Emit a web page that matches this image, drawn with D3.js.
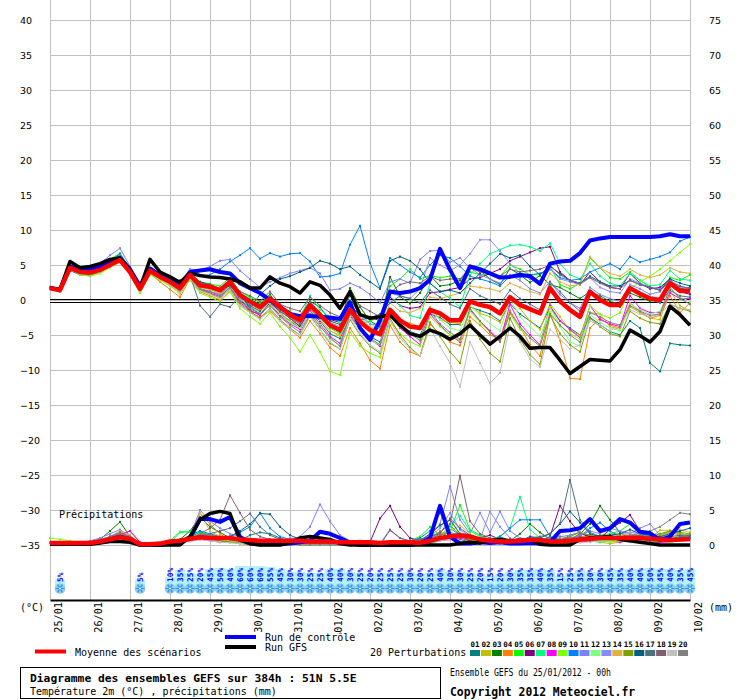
<!DOCTYPE html>
<html>
<head>
<meta charset="utf-8">
<script src="https://cdn.jsdelivr.net/npm/d3@7"></script>
<style>
  body { margin: 0; background: #fff; }
  svg { display: block; }
</style>
</head>
<body>
<svg id="chart" width="740" height="700"></svg>
<script>
"use strict";

// ---- data (6h steps, 0..384h) ----
const dayLabels = ["25/01","26/01","27/01","28/01","29/01","30/01","31/01","01/02","02/02",
  "03/02","04/02","05/02","06/02","07/02","08/02","09/02","10/02"];
const tempTicks = [40,35,30,25,20,15,10,5,0,-5,-10,-15,-20,-25,-30,-35];
const precipTicks = [75,70,65,60,55,50,45,40,35,30,25,20,15,10,5,0];

const snowPct = [0,5,0,0,0,0,0,0,0,5, 0,0,10,35,25,20,45,50,40,60, 60,60,55,45,30,30,25,25,40,40,
  30,25,20,25,25,25,30,20,25,40, 30,30,25,20,15,20,30,35,35,40, 35,15,25,35,30,30,45,35,40,40, 50,45,40,35,45];

const tempMean = [1.7,1.4,4.6,4.0,3.9,4.3,5.0,5.7,4.0,1.6, 4.2,3.3,2.6,1.7,3.6,2.1,1.9,1.4,2.6,0.7,
  -0.2,-1.0,0.2,-1.0,-2.1,-2.9,-0.7,-2.1,-3.6,-4.3, -1.4,-3.1,-4.3,-4.9,-1.4,-2.9,-3.8,-4.0,-1.4,-1.9,
  -2.9,-2.9,-0.2,-0.7,-1.0,-1.9,0.4,-0.7,-1.3,-1.9, 1.7,-0.2,-1.4,-2.4,1.2,0.0,-0.7,-0.7,1.7,0.9, 0.2,0.0,2.4,1.3,1.3];
const tempControl = [1.7,1.5,4.8,4.2,4.4,4.8,5.5,6.0,4.4,2.0, 4.5,3.5,3.0,2.2,4.0,4.2,4.4,4.0,3.8,2.4,
  1.7,1.0,0.0,-1.0,-2.0,-2.3,-2.3,-2.4,-2.5,-2.7, -0.3,-4.0,-5.7,-2.9,1.2,1.0,1.2,1.7,2.9,7.3,
  4.3,1.7,4.8,4.4,3.8,3.2,3.3,3.6,3.4,2.3, 5.2,5.5,5.6,6.7,8.5,8.8,9.0,9.0,9.0,9.0, 9.0,9.1,9.4,9.1,9.1];
const tempGFS = [1.7,1.5,5.5,4.6,4.8,5.2,5.8,6.0,4.3,1.7, 5.8,4.0,3.3,2.5,3.8,3.5,3.3,3.2,3.0,2.6,
  1.7,1.7,3.3,2.4,1.9,1.0,2.6,2.1,0.7,-1.2, 1.2,-2.1,-2.6,-2.4,-2.1,-3.6,-4.8,-5.2,-4.3,-4.8,
  -5.6,-4.8,-3.6,-5.0,-6.3,-5.2,-4.0,-5.2,-6.9,-6.8, -6.8,-8.6,-10.5,-9.5,-8.5,-8.6,-8.7,-7.1,-4.3,-5.1, -6.0,-4.5,-0.9,-2.1,-3.6];

const tempPerts = [
  [1.8,1.5,4.2,3.6,3.5,4.0,4.8,5.5,3.6,1.0, 3.8,3.0,2.4,1.0,3.0,1.5,1.2,0.8,2.0,0.0, -1.0,-2.0,-0.5,-2.0,-3.0,-4.0,-1.5,-3.0,-4.8,-5.5,
   -2.5,-4.0,-5.2,-6.0,-2.0,-3.8,-4.5,-5.0,-2.0,-2.5, -3.5,-3.5,-1.0,-1.5,-2.0,-3.0,-0.5,-2.0,-3.0,-4.0, -1.0,-3.0,-4.0,-5.0,-2.5,-3.5,-4.5,-5.0,-3.0,-4.0, -9.0,-10.2,-6.2,-6.4,-6.5],
  [1.7,1.4,4.8,4.2,4.2,4.6,5.6,6.5,4.2,1.8, 4.4,3.4,2.0,1.2,3.2,1.8,1.5,0.9,2.2,0.3, -0.8,-1.6,-0.2,-1.8,-3.0,-3.6,-1.2,-2.8,-4.4,-5.2,
   -2.0,-3.2,-4.0,-4.6,-2.0,-3.0,-3.3,-3.8,-1.0,-2.8, -3.2,-3.4,-0.8,-1.9,-2.4,-3.2,0.2,-1.2,-3.0,-4.2, -0.5,-2.4,-4.4,-5.0,-1.8,-2.0,-3.8,-4.2,-1.0,-1.8, -2.6,-2.8,1.3,-0.8,-1.6],
  [1.7,1.4,4.4,4.0,3.8,4.2,5.2,6.4,4.2,1.4, 4.0,3.2,2.4,1.5,3.3,2.0,1.6,1.2,2.2,0.8, 0.0,-0.6,0.8,-1.2,-2.5,-2.2,-0.2,-1.0,-3.0,-3.5,
   1.7,-1.0,-3.0,-3.8,3.3,0.5,-0.5,1.0,3.5,2.0, 2.2,2.8,4.6,4.2,3.0,2.2,4.5,3.6,2.5,3.5, 2.2,1.8,1.0,0.2,1.2,0.6,-0.2,-0.6,1.0,0.4, -0.2,0.2,2.6,1.6,1.8],
  [1.6,1.2,4.3,3.8,3.6,4.0,4.8,5.8,3.8,1.2, 3.8,2.6,1.5,0.4,3.0,1.2,0.6,0.0,1.2,-0.8, -1.8,-2.4,-1.6,-3.0,-4.2,-5.4,-3.0,-4.8,-6.8,-8.0,
   -4.0,-6.2,-8.6,-9.8,-3.6,-6.0,-7.4,-8.0,-3.5,-4.8, -6.0,-6.5,-2.4,-3.6,-5.0,-5.6,-1.5,-3.8,-6.4,-8.0, -1.8,-5.8,-11.2,-11.3,-4.0,-2.6,-3.6,-4.0,-0.4,-1.6, -2.6,-2.2,0.6,-1.8,-0.4],
  [1.9,1.6,4.7,4.3,4.4,4.9,5.8,6.7,4.4,2.0, 4.4,3.6,3.0,2.0,3.8,2.6,2.3,2.0,3.2,1.2, 0.4,-0.4,0.5,-1.0,-1.6,-3.0,-0.8,-2.6,-4.0,-4.8,
   -1.6,-3.4,-3.0,-2.4,2.0,3.0,4.4,3.0,3.5,3.2, 3.4,3.0,4.0,3.6,3.8,3.4,5.0,4.4,3.6,3.6, 4.8,2.2,1.6,2.4,6.0,4.6,3.2,3.0,4.0,2.8, 1.8,1.4,3.2,2.8,3.6],
  [1.8,1.5,4.6,4.1,4.0,4.4,5.2,6.0,4.2,1.8, 4.4,3.4,2.8,2.8,3.8,2.0,1.6,1.2,2.6,0.2, -1.6,-2.0,-0.4,-1.6,-2.6,-3.8,-1.2,-2.6,-2.8,-3.2,
   -1.0,-2.0,-2.4,-3.0,0.4,-0.8,-1.2,-1.0,1.0,1.2, 1.5,1.8,3.0,3.2,3.8,4.4,5.6,6.2,6.8,7.4, 7.6,4.0,2.8,2.2,4.0,2.6,1.8,1.6,3.8,2.4, 1.6,1.8,3.0,1.2,0.8],
  [1.7,1.3,4.5,4.0,3.8,4.2,4.8,5.4,3.8,1.4, 4.0,3.2,2.6,1.8,3.4,2.2,1.8,1.6,2.8,1.0, 0.2,-0.8,0.4,-1.2,-2.0,-2.6,0.6,-1.4,-2.4,-3.2,
   0.0,-1.8,-3.4,-4.2,0.6,-0.8,-2.2,-2.6,2.4,1.2, 0.2,-1.0,3.6,5.2,6.6,7.2,7.8,7.9,7.6,7.0, 8.1,5.2,3.6,3.0,5.2,3.4,2.4,2.0,3.8,2.8, 2.0,2.2,4.2,3.0,2.8],
  [1.7,1.4,4.6,3.9,3.8,4.2,4.9,5.8,4.6,2.4, 4.4,3.2,2.4,1.2,3.4,1.6,1.0,0.5,1.8,-0.4, -1.4,-2.2,-0.6,-2.2,-3.4,-4.2,-1.6,-3.4,-5.2,-6.2,
   -2.2,-4.2,-5.6,-6.6,-2.0,-4.0,-5.2,-6.4,-2.0,-3.6, -5.0,-6.0,-1.4,-3.0,-4.4,-5.8,-0.6,-3.4,-5.0,-6.4, -0.8,-3.0,-4.2,-5.4,-0.8,-2.8,-3.4,-3.8,0.6,-1.2, -1.8,-1.8,1.0,0.2,0.2],
  [1.8,1.5,4.4,3.6,3.4,3.8,4.6,5.4,3.6,1.0, 3.6,2.8,2.0,1.0,2.8,1.0,0.4,-0.2,1.2,-1.2, -2.4,-3.4,-1.8,-3.8,-5.4,-7.4,-5.0,-7.4,-10.2,-10.7,
   -4.6,-6.6,-7.6,-8.2,-3.0,-4.8,-6.0,-6.6,-2.4,-3.8, -5.0,-5.8,-1.6,-3.2,-4.6,-6.0,-2.0,-4.2,-5.4,-6.6, -1.0,-3.6,-4.8,-5.6,-0.8,-2.0,-2.6,-1.8,1.6,2.6, 3.4,4.4,5.6,6.8,8.0],
  [1.7,1.4,4.6,4.2,4.2,4.6,5.6,6.6,4.4,1.8, 4.4,3.6,3.0,2.2,4.0,3.4,3.6,4.4,5.5,6.4, 7.4,5.9,6.7,6.2,6.6,6.7,5.5,3.3,3.4,3.8,
   7.9,10.6,5.3,1.7,6.0,5.0,4.0,3.2,5.0,6.4, 6.0,4.8,3.4,3.0,2.6,2.0,3.4,3.2,3.6,3.8, 4.4,3.2,2.8,3.0,4.0,4.6,5.2,4.4,6.2,5.4, 5.8,6.2,6.8,8.4,9.0],
  [1.8,1.6,4.8,4.4,4.6,5.2,6.4,7.4,4.8,2.0, 4.6,3.8,3.2,2.4,4.4,4.2,4.8,5.6,5.8,4.2, 3.0,1.8,2.6,3.2,3.8,4.2,4.6,3.8,1.4,1.6,
   2.4,1.8,0.8,-0.4,2.6,3.0,2.4,5.8,7.0,7.1, 5.4,6.0,4.6,3.6,3.0,2.4,3.6,2.8,1.6,1.0, 2.6,0.8,-0.4,-1.2,1.8,0.8,0.2,-0.2,2.2,1.6, 0.8,1.2,2.8,2.0,1.6],
  [1.8,1.4,4.4,3.8,3.7,4.1,4.7,5.4,3.9,1.5, 4.0,3.0,2.2,1.3,3.2,1.7,1.3,0.7,2.0,0.1, -0.9,-1.8,-0.6,-2.0,-3.2,-4.0,-1.8,-3.6,-5.6,-6.4,
   -2.4,-4.4,-5.8,-6.4,-1.6,-3.6,-4.6,-5.6,-1.4,-2.8, -4.0,-4.4,-0.8,-2.2,-3.4,-4.4,0.2,-2.4,-3.8,-5.2, -1.6,-3.8,-6.0,-6.6,-2.0,-3.2,-4.0,-4.4,-0.6,-1.4, -2.0,-1.6,1.4,0.4,-0.2],
  [1.6,1.3,4.4,3.9,3.9,4.4,5.4,6.4,4.2,1.6, 4.2,3.4,2.6,1.4,3.0,1.6,1.2,0.8,2.2,0.2, -0.6,-1.4,0.0,-1.2,-2.4,-3.0,-0.4,-2.2,-3.2,-3.8,
   -0.6,-2.4,-3.4,-3.6,1.0,0.6,0.2,1.6,6.0,5.0, 4.2,5.0,6.6,8.6,8.6,7.0,5.2,3.8,3.0,2.6, 4.4,3.0,2.6,2.2,3.2,1.8,1.2,1.0,3.0,2.4, 1.8,1.6,2.6,1.8,1.6],
  [1.7,1.3,4.5,4.0,3.9,4.3,5.0,5.8,4.0,1.4, 4.0,3.0,2.2,0.8,3.4,1.8,1.6,1.0,2.4,0.4, -0.4,-1.4,0.2,-1.2,-2.4,-3.4,-1.0,-2.8,-4.4,-5.0,
   -1.0,-2.6,-3.8,-4.4,-0.4,-1.6,-1.8,-1.2,0.4,0.2, 0.6,1.0,2.0,1.8,1.6,1.2,2.4,1.8,1.2,0.8, 3.8,2.6,2.0,2.2,6.2,4.6,3.8,3.4,4.4,3.6, 3.2,3.6,4.6,4.0,3.8],
  [1.7,1.4,4.5,3.9,3.7,4.1,4.8,5.7,3.9,1.4, 3.9,3.0,2.3,1.2,3.1,1.4,0.9,0.3,1.6,-0.6, -1.6,-2.6,-1.2,-2.8,-4.0,-5.0,-2.2,-4.2,-6.2,-7.0,
   -2.8,-5.0,-6.6,-7.6,-2.6,-5.0,-6.8,-8.0,-3.2,-5.2, -7.4,-9.0,-3.0,-5.6,-7.6,-8.8,-2.6,-5.6,-7.8,-9.2, -2.2,-4.8,-6.4,-7.4,-2.6,-3.8,-4.8,-5.2,-1.6,-2.6, -3.2,-3.4,-0.6,-1.2,-1.6],
  [1.8,1.5,4.7,4.3,4.3,4.7,5.5,6.2,4.4,1.8, 4.2,3.4,2.8,2.0,3.4,2.6,2.2,1.6,2.0,1.0, -1.2,0.8,2.0,3.0,3.4,4.0,4.6,5.6,5.2,4.4,
   4.8,3.6,2.6,1.6,5.6,6.2,5.6,4.4,2.4,1.2, 1.4,1.0,2.4,3.8,5.2,6.6,6.0,6.4,4.8,3.6, 4.8,3.8,2.8,2.4,3.4,2.6,2.0,2.0,2.8,2.2, 1.8,1.4,3.0,2.4,2.0],
  [1.7,1.4,4.6,4.0,3.9,4.3,5.0,5.7,4.0,1.6, 4.1,3.3,2.5,1.6,3.6,-0.8,-2.4,-0.6,-1.0,0.6, -0.8,-1.6,-0.2,-1.6,-2.6,-3.4,-1.0,-2.4,-3.8,-4.6,
   -1.6,-2.8,-2.6,-2.0,-0.4,0.6,0.2,-0.4,1.4,0.4, -0.6,-1.2,1.6,0.6,0.0,-0.6,1.4,0.2,-0.6,-1.4, 2.6,1.2,-0.4,-1.6,1.0,0.4,-0.6,-1.0,1.6,0.8, 0.0,-0.4,1.4,0.6,0.4],
  [1.7,1.4,4.6,4.1,4.0,4.4,5.1,5.8,4.1,1.7, 4.3,3.4,2.7,1.8,3.5,2.4,2.2,1.6,2.6,1.2, 0.6,-0.2,1.2,-0.6,-1.2,-1.6,0.4,-0.8,-1.8,-2.4,
   0.6,-0.8,-1.6,-2.4,1.0,2.2,2.6,2.4,3.4,2.8, 3.0,3.0,4.6,4.0,3.8,3.4,4.4,4.0,4.2,4.4, 5.0,3.6,2.8,2.4,3.2,2.4,1.8,1.6,2.8,2.2, 1.8,1.4,2.6,2.0,1.6],
  [1.6,1.3,4.3,3.8,3.7,4.1,4.8,5.6,3.9,1.4, 3.9,3.0,2.2,1.1,3.0,1.3,0.8,0.2,1.4,-0.8, -1.8,-2.8,-1.4,-3.0,-4.2,-5.0,-2.4,-4.2,-6.0,-7.0,
   -2.6,-4.8,-6.4,-7.4,-3.0,-5.4,-7.0,-8.0,-4.0,-6.6, -9.0,-12.4,-6.0,-9.0,-11.9,-10.4,-3.6,-6.0,-8.4,-9.6, -4.2,-5.6,-7.0,-6.4,-3.0,-3.6,-4.4,-3.6,-1.4,-2.0, -2.4,-2.0,-0.6,-1.2,-1.4],
  [1.7,1.4,4.5,3.9,3.8,4.2,4.9,5.9,4.4,2.0, 4.2,3.2,2.4,1.4,3.2,1.6,1.2,0.6,1.8,-0.2, -1.2,-2.0,-0.8,-2.4,-3.6,-4.6,-2.0,-3.8,-5.4,-6.6,
   -2.0,-4.0,-5.4,-6.4,-1.8,-3.6,-4.8,-5.8,-1.6,-3.4, -4.6,-5.6,-1.2,-3.0,-4.6,-6.0,-1.8,-3.8,-5.4,-6.6, -2.0,-3.6,-5.0,-6.0,-1.8,-2.4,-3.2,-3.6,-0.8,-1.6, -2.2,-2.0,1.8,0.2,-0.6]
];

const precipMean = [0.3,0.3,0.3,0.3,0.3,0.5,0.8,1.1,0.9,0.1, 0.1,0.2,0.5,0.6,0.9,1.1,1.0,1.0,1.0,0.8,
  0.7,0.6,0.6,0.6,0.6,0.6,0.5,0.5,0.5,0.4, 0.4,0.4,0.4,0.3,0.4,0.4,0.4,0.3,0.6,1.0,
  1.2,1.4,1.2,0.8,0.6,0.5,0.5,0.6,0.7,0.7, 0.5,0.5,0.6,0.8,0.9,1.0,1.0,1.0,1.0,1.0, 0.9,0.8,0.7,0.8,0.9];
const precipControl = [0.2,0.2,0.2,0.2,0.2,0.4,0.8,1.2,0.8,0.0, 0.0,0.0,0.2,0.4,1.0,3.7,3.7,3.3,4.0,1.2,
  0.2,0.1,0.1,0.1,0.2,0.4,0.6,1.9,1.6,1.0, 0.3,0.0,0.0,0.0,0.0,0.0,0.0,0.2,1.0,5.6,
  1.2,0.2,0.2,0.4,0.3,0.4,0.2,0.2,0.3,0.2, 0.4,2.0,2.1,2.4,3.7,2.0,2.4,3.7,3.2,1.9, 1.7,0.7,1.2,3.0,3.2];
const precipGFS = [0.1,0.1,0.1,0.1,0.1,0.3,0.5,0.5,0.4,0.0, 0.0,0.0,0.0,0.0,1.2,3.6,4.5,4.8,4.5,0.7,
  0.2,0.0,0.0,0.0,0.3,1.0,1.2,1.0,0.8,0.2, 0.0,0.0,0.0,0.0,0.0,0.0,0.0,0.0,0.0,0.0,
  0.0,0.2,0.4,0.3,0.6,0.8,0.6,0.6,0.8,0.1, 0.0,0.0,0.0,0.8,1.0,1.1,1.2,0.8,0.6,0.4, 0.2,0.0,0.0,0.0,0.0];

const precipPerts = [
  [0.3,0.3,0.2,0.3,0.4,0.6,1.0,1.4,0.8,0.0, 0.0,0.1,0.3,0.6,1.2,1.8,1.4,1.0,0.8,0.6, 1.4,1.8,1.6,1.0,0.4,0.2,0.0,0.0,0.0,0.2,
   0.4,0.2,0.0,0.0,0.0,0.2,0.6,0.4,0.8,1.6, 1.2,0.8,0.4,0.2,0.2,0.3,0.4,0.6,0.2,0.0, 0.2,0.6,1.4,1.8,1.2,0.8,0.6,0.8,1.2,1.0, 0.6,1.4,2.0,1.6,1.4],
  [0.4,0.3,0.3,0.4,0.5,0.8,1.2,1.8,1.0,0.2, 0.0,0.0,0.2,0.4,0.8,1.0,0.8,0.6,0.4,0.3, 0.2,0.2,0.4,0.6,0.4,0.2,0.1,0.0,0.0,0.0,
   0.2,0.4,0.2,0.0,0.0,0.0,0.3,0.2,0.4,0.6, 0.8,1.0,0.6,0.4,0.2,0.2,0.4,0.3,0.2,0.4, 0.6,0.4,0.2,0.4,0.6,0.4,0.2,0.4,0.6,0.8, 1.0,2.1,2.1,1.6,1.4],
  [0.3,0.2,0.3,0.3,0.4,0.8,2.0,3.3,1.2,0.0, 0.0,0.2,0.3,0.8,2.0,4.0,2.6,1.8,1.0,0.6, 0.4,0.6,0.8,0.6,0.4,0.2,0.0,0.0,0.2,0.4,
   0.2,0.0,0.0,0.0,0.2,0.0,0.0,0.4,0.8,1.2, 2.8,1.4,0.6,0.4,0.8,1.2,0.6,1.6,3.0,1.8, 0.8,0.6,0.8,1.6,3.0,5.6,3.6,1.8,0.8,0.4, 0.2,0.4,0.6,0.8,1.0],
  [0.3,0.3,0.3,0.3,0.4,0.6,1.2,1.6,2.0,0.4, 0.0,0.0,0.2,0.6,1.4,4.6,3.0,1.6,0.6,0.2, 0.0,0.0,0.2,0.4,0.2,0.0,0.0,0.0,0.0,0.0,
   0.0,0.0,0.0,0.0,0.0,0.0,0.2,0.4,0.8,2.0, 1.0,1.6,1.4,0.8,0.4,0.4,0.2,0.2,0.4,0.8, 0.6,0.4,0.6,1.0,1.4,0.8,0.6,1.2,1.0,0.8, 0.6,1.0,1.8,1.4,0.8],
  [0.4,0.4,0.3,0.3,0.4,0.6,1.0,1.4,1.0,0.1, 0.0,0.0,0.3,1.8,1.9,1.8,1.4,1.2,0.8,0.6, 0.4,0.2,0.2,0.4,0.6,0.3,0.2,0.2,0.2,0.2,
   0.0,0.0,0.0,0.0,0.0,0.4,0.6,1.2,2.6,1.4, 2.0,5.7,2.2,1.4,0.8,0.6,0.4,0.4,0.6,0.4, 0.4,0.6,1.2,0.8,1.2,1.4,1.6,2.0,3.0,1.6, 1.2,1.0,0.8,1.4,1.0],
  [0.3,0.2,0.3,0.3,0.3,0.5,0.8,1.2,0.8,0.0, 0.0,0.0,0.2,0.4,0.6,1.0,1.2,0.8,0.6,0.4, 0.3,0.2,0.2,0.2,0.2,0.0,0.0,0.0,0.0,0.0,
   0.4,0.6,0.4,3.8,5.6,2.6,1.0,0.6,0.4,0.8, 1.6,1.2,0.8,1.0,1.4,0.8,0.6,1.0,0.6,0.6, 1.2,5.6,3.4,1.6,1.2,1.0,2.2,3.2,4.3,2.0, 1.2,0.6,0.8,0.8,0.8],
  [0.3,0.3,0.3,0.3,0.4,0.5,0.8,1.0,0.6,0.0, 0.0,0.2,0.6,1.9,1.9,1.6,1.2,0.8,0.4,0.2, 0.2,0.2,0.4,0.2,0.2,0.4,0.6,0.4,0.2,0.0,
   0.0,0.2,0.2,0.0,0.0,0.2,0.4,0.2,0.2,0.6, 2.8,4.2,2.0,1.2,0.8,1.2,2.4,6.9,2.2,1.0, 0.6,0.4,0.6,0.8,0.6,0.4,0.6,0.8,1.0,1.2, 1.4,1.6,1.2,1.0,0.8],
  [0.3,0.3,0.3,0.3,0.3,0.6,1.0,1.4,2.0,0.4, 0.0,0.0,0.2,0.4,0.6,0.8,0.6,0.4,0.6,0.8, 0.4,0.2,0.2,0.2,0.0,0.0,0.0,0.0,0.2,0.2,
   0.0,0.0,0.0,0.0,0.0,0.0,0.2,0.2,0.4,0.6, 0.8,1.0,0.6,0.4,0.4,0.6,0.4,0.2,0.2,0.4, 0.6,0.8,0.6,0.4,0.6,0.8,0.6,0.4,0.8,1.0, 0.6,0.4,0.4,0.6,0.6],
  [1.0,0.8,0.6,0.4,0.4,0.6,0.9,1.2,0.8,0.0, 0.0,0.1,0.3,0.6,0.8,1.2,1.0,0.8,0.6,0.4, 0.2,0.2,0.2,0.2,0.0,0.0,0.0,0.0,0.0,0.0,
   0.0,0.0,0.0,0.0,0.0,0.0,0.2,0.4,0.6,0.8, 1.2,1.4,0.8,0.6,0.4,0.2,0.2,0.4,0.2,0.2, 0.4,0.2,0.4,0.6,0.8,0.6,0.4,0.6,0.8,0.6, 0.4,0.6,1.0,1.2,0.8],
  [0.3,0.3,0.3,0.3,0.4,0.5,0.9,1.2,0.7,0.0, 0.0,0.1,0.3,0.6,1.4,2.0,1.6,1.2,1.2,1.8, 2.6,4.6,2.4,1.2,0.8,0.4,0.2,0.2,0.2,0.2,
   0.4,0.2,0.0,0.0,0.2,0.4,0.6,1.0,2.0,4.6, 2.4,1.4,1.0,0.8,0.6,1.2,2.4,3.6,3.6,3.6, 1.2,0.8,0.8,1.2,2.4,3.2,2.0,1.2,1.0,0.8, 0.6,0.6,0.8,1.2,1.4],
  [0.3,0.3,0.3,0.4,0.6,1.0,1.6,2.2,1.2,0.2, 0.0,0.1,0.3,0.5,1.2,5.0,3.4,2.4,1.6,1.2, 0.8,0.6,0.4,0.6,0.8,1.2,2.6,5.8,3.4,1.4,
   0.6,0.4,0.2,0.2,2.2,1.0,0.4,0.6,1.4,3.0, 8.4,3.6,1.6,4.6,1.8,4.8,2.0,1.0,0.8,0.6, 0.6,0.8,1.0,1.4,2.0,1.6,2.4,2.0,1.6,2.4, 3.0,1.4,0.8,0.6,0.6],
  [0.4,0.3,0.3,0.3,0.4,0.6,1.0,1.4,0.8,0.1, 0.0,0.0,0.2,0.4,0.8,1.2,1.0,0.8,0.6,0.4, 0.2,0.2,0.2,0.4,0.2,0.2,0.0,0.0,0.0,0.0,
   0.0,0.0,0.0,0.0,0.2,0.2,0.4,0.6,1.0,1.6, 2.4,1.8,1.2,0.8,0.6,0.4,0.4,0.6,0.8,0.6, 0.4,0.4,0.6,0.8,1.0,0.8,0.6,0.8,1.0,1.2, 0.8,0.6,0.4,0.6,0.8],
  [0.3,0.3,0.4,0.4,0.5,0.7,1.2,1.6,1.0,0.1, 0.0,0.1,0.2,0.4,0.8,1.6,1.2,1.0,0.8,0.6, 0.4,0.4,0.4,0.6,1.0,0.8,0.4,0.2,0.2,0.0,
   0.0,0.0,0.0,0.0,0.2,0.4,0.6,0.8,1.2,2.4, 4.6,2.2,1.2,0.8,4.8,2.6,1.0,0.6,0.6,0.8, 1.0,1.2,1.4,1.8,1.4,1.2,1.4,1.6,1.8,1.6, 1.4,1.2,1.0,0.8,0.8],
  [0.3,0.3,0.3,0.3,0.4,0.6,1.2,2.0,1.4,0.2, 0.0,0.0,0.2,0.4,0.8,4.6,2.0,1.2,0.8,0.6, 0.4,0.2,0.2,0.2,0.2,0.0,0.0,0.0,0.0,0.0,
   0.0,0.0,0.0,0.0,0.2,0.4,0.6,0.8,1.2,1.6, 2.0,2.8,1.6,1.0,0.6,0.4,0.4,0.6,0.8,0.6, 0.6,0.8,1.0,1.2,1.0,0.8,1.2,1.4,1.6,1.2, 1.0,1.4,1.8,2.2,1.8],
  [0.3,0.3,0.3,0.3,0.4,0.6,1.0,1.4,1.0,0.1, 0.0,0.0,0.2,0.4,0.6,0.8,0.8,0.6,0.4,0.4, 0.2,0.2,0.2,0.2,0.2,0.0,0.0,0.0,0.0,0.0,
   0.0,0.0,0.0,0.0,0.0,0.2,0.4,0.4,0.6,0.8, 1.0,1.2,0.8,0.6,0.4,0.4,0.6,0.8,0.6,0.4, 0.4,0.6,1.2,1.8,1.4,1.0,0.8,0.6,0.8,1.0, 1.2,1.6,2.0,1.8,1.6],
  [0.3,0.3,0.3,0.3,0.4,0.6,1.0,1.4,0.9,0.1, 0.0,0.0,0.2,0.4,0.8,1.4,1.2,1.0,1.2,2.0, 3.0,4.5,4.4,2.6,1.4,0.8,0.4,0.2,0.2,0.2,
   0.0,0.0,0.0,0.0,0.0,0.2,0.4,0.6,1.6,2.8, 3.6,1.6,1.0,0.8,0.6,0.6,0.8,0.6,1.2,1.0, 1.6,3.0,4.8,3.2,1.6,1.2,1.4,1.6,2.2,1.6, 1.4,1.2,1.6,2.0,2.4],
  [0.3,0.3,0.3,0.3,0.4,0.6,1.0,1.4,1.0,0.2, 0.0,0.0,0.2,0.4,0.8,1.4,1.6,2.0,2.4,3.4, 4.5,2.6,1.4,0.8,0.6,0.4,0.2,0.2,0.2,0.0,
   0.0,0.0,0.0,0.0,0.2,0.4,0.6,0.8,1.2,1.6, 3.8,2.4,1.4,1.0,0.8,0.6,0.6,0.8,1.0,1.2, 1.6,3.1,9.3,3.6,1.8,1.2,1.0,0.8,1.2,1.4, 1.2,1.0,1.2,1.4,1.2],
  [0.3,0.3,0.3,0.3,0.4,0.7,1.2,1.8,1.2,0.2, 0.0,0.0,0.2,0.4,0.8,1.6,2.4,3.6,7.1,4.6, 2.2,1.2,0.8,0.6,0.4,0.2,0.2,0.2,0.0,0.0,
   0.0,0.0,0.0,0.0,2.1,1.0,0.6,0.8,1.2,1.8, 3.0,9.9,3.4,1.6,1.0,0.8,0.6,0.8,1.0,0.8, 0.6,0.8,1.0,1.2,1.0,0.8,1.0,1.2,1.4,1.2, 1.0,0.8,0.8,1.0,1.0],
  [0.3,0.3,0.3,0.3,0.3,0.5,0.8,1.0,0.6,0.0, 0.0,0.0,0.2,0.3,0.5,0.8,0.6,0.4,0.3,0.2, 0.2,0.2,0.2,0.2,0.0,0.0,0.0,0.0,0.0,0.0,
   0.0,0.0,0.0,0.0,0.0,0.0,0.2,0.2,0.4,0.6, 0.8,0.6,0.4,0.4,0.2,0.2,0.2,0.4,0.4,0.2, 0.2,0.4,0.6,0.4,0.4,0.6,0.8,0.6,0.4,0.6, 0.8,0.6,0.6,0.8,0.6],
  [0.3,0.3,0.3,0.3,0.4,0.6,1.0,1.6,1.2,0.2, 0.0,0.0,0.2,0.6,1.0,1.6,1.4,1.0,0.8,0.6, 0.4,0.2,0.2,0.2,0.2,0.0,0.0,0.0,0.0,0.0,
   0.0,0.0,0.0,0.0,0.2,0.2,0.4,0.6,1.0,1.4, 1.8,1.4,1.0,0.8,0.6,0.6,0.8,0.6,0.6,0.8, 1.0,1.2,1.0,0.8,0.6,0.8,1.0,1.2,1.4,1.6, 2.0,2.6,3.6,4.6,4.4]
];

const pertColors = ["#008080","#c0c000","#008000","#ff8000","#00ff00","#800080","#00ff80","#ff00ff","#80ff00","#0080ff",
  "#8080ff","#80ff80","#8888ff","#e0b040","#80a000","#006080","#507080","#806070","#c0c0c0","#808080"];
const pertLabels = ["01","02","03","04","05","06","07","08","09","10","11","12","13","14","15","16","17","18","19","20"];

// ---- scales ----
const svg = d3.select("#chart");
const x = d3.scaleLinear().domain([0, 384]).range([50, 690]);
const yT = d3.scaleLinear().domain([-35, 40]).range([545, 20]);
const yP = d3.scaleLinear().domain([0, 75]).range([545, 20]);
const ySnow = d3.scaleSqrt().domain([0, 60]).range([585, 566]);
const hourOf = i => i * 6;
const mono = "'DejaVu Sans Mono', 'Liberation Mono', monospace";

// ---- grid ----
const grid = svg.append("g").attr("shape-rendering", "crispEdges").attr("stroke", "#c0c0c0");
grid.selectAll("line.v").data(dayLabels).enter().append("line")
  .attr("x1", (d, i) => x(i * 24)).attr("x2", (d, i) => x(i * 24))
  .attr("y1", 0).attr("y2", 600);
grid.selectAll("line.h").data(tempTicks).enter().append("line")
  .attr("x1", 50).attr("x2", 690)
  .attr("y1", d => yT(d)).attr("y2", d => yT(d));

// zero line (double)
svg.append("g").attr("shape-rendering", "crispEdges").attr("stroke", "#000")
  .selectAll("line").data([-1.5, 1.5]).enter().append("line")
  .attr("x1", 50).attr("x2", 690)
  .attr("y1", d => Math.round(yT(0) + d) + 0.5).attr("y2", d => Math.round(yT(0) + d) + 0.5);

// ---- axes ----
const leftAxis = svg.append("g").attr("transform", "translate(20,0)")
  .call(d3.axisLeft(yT).tickValues(tempTicks).tickSize(0).tickPadding(0));
leftAxis.select(".domain").remove();
leftAxis.selectAll("text").attr("text-anchor", "start").attr("x", 0)
  .attr("font-family", "'DejaVu Sans', sans-serif").attr("font-size", 9.5);

const rightAxis = svg.append("g").attr("transform", "translate(709,0)")
  .call(d3.axisRight(yP).tickValues(precipTicks).tickSize(0).tickPadding(0));
rightAxis.select(".domain").remove();
rightAxis.selectAll("text").attr("x", 0)
  .attr("font-family", "'DejaVu Sans', sans-serif").attr("font-size", 9.5);

const dateAxis = svg.append("g").attr("transform", "translate(0,600)")
  .call(d3.axisBottom(x).tickValues(dayLabels.map((d, i) => i * 24))
    .tickFormat((d, i) => dayLabels[i]).tickSize(0).tickSizeOuter(0));
dateAxis.select(".domain").attr("stroke-width", 2);
dateAxis.selectAll("text")
  .attr("x", 0).attr("y", 0).attr("dy", 0)
  .attr("transform", "translate(11,2) rotate(-90)")
  .attr("text-anchor", "end")
  .attr("font-family", mono).attr("font-size", 10.2).attr("fill", "#000");

svg.append("text").attr("x", 20).attr("y", 611).attr("font-family", mono).attr("font-size", 10).text("(°C)");
svg.append("text").attr("x", 709).attr("y", 611).attr("font-family", mono).attr("font-size", 10).text("(mm)");
svg.append("text").attr("x", 59).attr("y", 518).attr("font-family", mono).attr("font-size", 10).text("Précipitations");

// ---- snow probability row ----
const snow = snowPct.map((p, i) => ({ i: i, p: p })).filter(d => d.p > 0);
svg.append("g").attr("shape-rendering", "crispEdges").selectAll("rect").data(snow).enter().append("rect")
  .attr("x", d => x(hourOf(d.i)) - 5).attr("width", 10)
  .attr("y", d => ySnow(d.p)).attr("height", d => 587 - ySnow(d.p))
  .attr("fill", "#b4f2ff");
const flakes = svg.append("g").selectAll("g").data(snow).enter().append("g")
  .attr("transform", d => `translate(${x(hourOf(d.i))},588.5)`);
flakes.append("circle").attr("r", 5.3).attr("fill", "#8ccdf2");
flakes.append("path").attr("d", "M-4.5,0H4.5M-2.3,-3.9L2.3,3.9M2.3,-3.9L-2.3,3.9")
  .attr("stroke", "#2f8fe0").attr("stroke-width", 1.2);
flakes.append("circle").attr("r", 1.1).attr("fill", "#e8f8ff");
svg.append("g").selectAll("text").data(snow).enter().append("text")
  .attr("transform", d => `translate(${x(hourOf(d.i)) + 2.8},582) rotate(-90)`)
  .attr("font-family", mono).attr("font-size", 7.8).attr("font-weight", "bold")
  .attr("fill", "#0000ff").text(d => d.p + "%");

// ---- series ----
const tLine = d3.line().x((d, i) => x(hourOf(i))).y(d => yT(d));
const pLine = d3.line().x((d, i) => x(hourOf(i))).y(d => yP(d));

function drawThin(series, lineGen, yScale) {
  const g = svg.append("g");
  series.forEach((s, k) => {
    g.append("path").attr("d", lineGen(s)).attr("fill", "none")
      .attr("stroke", pertColors[k]).attr("stroke-width", 1);
    g.append("g").selectAll("rect").data(s).enter().append("rect")
      .attr("x", (d, i) => x(hourOf(i)) - 1).attr("y", d => yScale(d) - 1)
      .attr("width", 2).attr("height", 2).attr("fill", pertColors[k]);
  });
}
drawThin(tempPerts, tLine, yT);
drawThin(precipPerts, pLine, yP);

function drawThick(s, lineGen, color, w) {
  svg.append("path").attr("d", lineGen(s)).attr("fill", "none")
    .attr("stroke", color).attr("stroke-width", w).attr("stroke-linejoin", "round");
}
drawThick(tempControl, tLine, "#0000ff", 4);
drawThick(precipControl, pLine, "#0000ff", 4);
drawThick(tempGFS, tLine, "#000000", 3.5);
drawThick(precipGFS, pLine, "#000000", 3.5);
drawThick(tempMean, tLine, "#ff0000", 4.5);
drawThick(precipMean, pLine, "#ff0000", 4.5);

// ---- legend ----
const legend = svg.append("g").attr("font-family", mono).attr("font-size", 10);
legend.append("line").attr("x1", 35).attr("x2", 66).attr("y1", 651.5).attr("y2", 651.5)
  .attr("stroke", "#ff0000").attr("stroke-width", 4);
legend.append("text").attr("x", 75).attr("y", 656).text("Moyenne des scénarios");
legend.append("line").attr("x1", 225).attr("x2", 256).attr("y1", 637).attr("y2", 637)
  .attr("stroke", "#0000ff").attr("stroke-width", 4);
legend.append("text").attr("x", 265).attr("y", 641).text("Run de contrôle");
legend.append("line").attr("x1", 225).attr("x2", 256).attr("y1", 647).attr("y2", 647)
  .attr("stroke", "#000").attr("stroke-width", 4);
legend.append("text").attr("x", 265).attr("y", 651).text("Run GFS");
legend.append("text").attr("x", 370).attr("y", 656).text("20 Perturbations");

const sw = legend.append("g").selectAll("g").data(pertLabels).enter().append("g")
  .attr("transform", (d, k) => `translate(${470 + k * 10.95},0)`);
sw.append("rect").attr("x", 0).attr("y", 650).attr("width", 10).attr("height", 6)
  .attr("fill", (d, k) => pertColors[k]);
sw.append("text").attr("x", 5).attr("y", 646.5).attr("text-anchor", "middle")
  .attr("font-size", 7.5).attr("font-weight", "bold").text(d => d);

// title box
svg.append("rect").attr("x", 20.5).attr("y", 667.5).attr("width", 420).attr("height", 31)
  .attr("fill", "none").attr("stroke", "#000");
svg.append("text").attr("x", 30).attr("y", 681.5).attr("font-family", mono)
  .attr("font-size", 11.3).attr("font-weight", "bold")
  .text("Diagramme des ensembles GEFS sur 384h : 51N 5.5E");
svg.append("text").attr("x", 30).attr("y", 695).attr("font-family", mono).attr("font-size", 10)
  .text("Température 2m (°C) , précipitations (mm)");
svg.append("text").attr("x", 450).attr("y", 676).attr("font-family", mono).attr("font-size", 10)
  .attr("textLength", 161).attr("lengthAdjust", "spacingAndGlyphs")
  .text("Ensemble GEFS du 25/01/2012 - 00h");
svg.append("text").attr("x", 450).attr("y", 696).attr("font-family", mono)
  .attr("font-size", 11.4).attr("font-weight", "bold")
  .text("Copyright 2012 Meteociel.fr");
</script>
</body>
</html>
